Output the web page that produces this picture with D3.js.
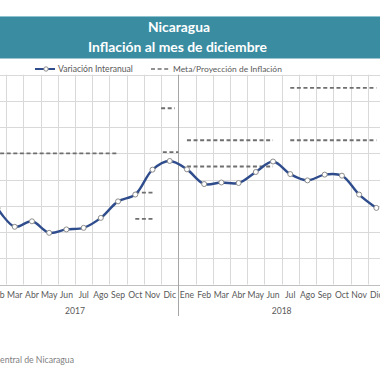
<!DOCTYPE html>
<html>
<head>
<meta charset="utf-8">
<script src="https://cdn.jsdelivr.net/npm/d3@7"></script>
<style>
  html, body { margin: 0; padding: 0; background: #ffffff; }
  svg { display: block; }
  text { font-family: Lato, "Open Sans", "Noto Sans", sans-serif; }
</style>
</head>
<body>
<svg id="chart" width="380" height="380"></svg>
<script>
// ---------- data ----------
const meses = ["Ene","Feb","Mar","Abr","May","Jun","Jul","Ago","Sep","Oct","Nov","Dic"];
const anios = ["2017","2018"];
// Variación interanual (%), Ene 2017 .. Dic 2018 (Ene 2017 not visible)
const variacion = [null, 3.91, 3.20, 3.41, 2.97, 3.10, 3.16, 3.54, 4.17, 4.43, 5.38, 5.71,
                   5.39, 4.83, 4.89, 4.87, 5.29, 5.69, 5.21, 4.97, 5.19, 5.15, 4.43, 3.92];
// Meta/Proyección de inflación: segments (month index from Ene 2017)
const metaInicio = [0,   9,   9,   10.5, 10.6, 12,  12,  18,  18];
const metaFin    = [8,   10,  10,  11.3, 11.5, 17,  17,  23,  23];
const metaValor  = [6.0, 4.5, 3.5, 7.72, 6.05, 6.5, 5.5, 8.5, 6.5];
const yTicks = [1,2,3,4,5,6,7,8,9];
const titulo1 = "Nicaragua";
const titulo2 = "Inflación al mes de diciembre";
const leyenda1 = "Variación Interanual";
const leyenda2 = "Meta/Proyección de Inflación";
const fuente = "Fuente: Banco Central de Nicaragua";

// ---------- layout ----------
const svg = d3.select("#chart");
const W = 380, H = 380;
const plotTop = 74.7, plotBottom = 284.5;
const step = 17.22, firstCenter = -19.7;

const categorias = [];
anios.forEach(a => meses.forEach(m => categorias.push(a + "-" + m)));

const x = d3.scaleBand()
  .domain(categorias)
  .range([firstCenter - step/2, firstCenter - step/2 + step*categorias.length])
  .paddingInner(0).paddingOuter(0);
const xc = i => x(categorias[i]) + x.bandwidth()/2;
const xi = d3.scaleLinear().domain([0, categorias.length-1]).range([xc(0), xc(categorias.length-1)]);

const y = d3.scaleLinear().domain([1, 9]).range([plotBottom, plotTop]);

// helper: fit text to width
function fit(sel, target) {
  const n = sel.node();
  const w = n.getComputedTextLength();
  const fs = parseFloat(sel.attr("font-size"));
  sel.attr("font-size", (fs * target / w).toFixed(2));
}

// ---------- title banner ----------
svg.append("rect").attr("x", 0).attr("y", 16).attr("width", W).attr("height", 42.5)
  .attr("fill", "#3a8ca1");
svg.append("line").attr("x1", 0).attr("x2", W).attr("y1", 16.5).attr("y2", 16.5)
  .attr("stroke", "#8fc3cf").attr("stroke-width", 1);
const t1 = svg.append("text").attr("x", 179).attr("y", 31.5).attr("text-anchor", "middle")
  .attr("fill", "#ffffff").attr("font-weight", "bold").attr("font-size", 13).text(titulo1);
fit(t1, 62);
const t2 = svg.append("text").attr("x", 177.5).attr("y", 52).attr("text-anchor", "middle")
  .attr("fill", "#ffffff").attr("font-weight", "bold").attr("font-size", 13).text(titulo2);
fit(t2, 179);

// ---------- gridlines ----------
const grid = svg.append("g");
grid.selectAll("line.h").data(yTicks.filter(v => v > 1)).join("line")
  .attr("x1", 0).attr("x2", W)
  .attr("y1", d => Math.round(y(d)) + 0.5).attr("y2", d => Math.round(y(d)) + 0.5)
  .attr("stroke", "#d9d9d9").attr("stroke-width", 1);
const bounds = d3.range(0, categorias.length + 1).map(k => x.range()[0] + k * step);
grid.selectAll("line.v").data(bounds.filter(b => b > 0 && b < W && Math.abs(b - xc(11) - step/2) > 1)).join("line")
  .attr("x1", d => Math.round(d) + 0.5).attr("x2", d => Math.round(d) + 0.5)
  .attr("y1", plotTop).attr("y2", plotBottom)
  .attr("stroke", "#d9d9d9").attr("stroke-width", 1);

// axis line
svg.append("line").attr("x1", 0).attr("x2", W)
  .attr("y1", Math.round(plotBottom) + 0.5).attr("y2", Math.round(plotBottom) + 0.5)
  .attr("stroke", "#bfbfbf").attr("stroke-width", 1);
// year separator
const sepX = Math.round(xc(11) + step/2) + 0.5;
svg.append("line").attr("x1", sepX).attr("x2", sepX).attr("y1", plotTop).attr("y2", 316)
  .attr("stroke", "#a6a6a6").attr("stroke-width", 1);

// ---------- x axis labels ----------
svg.append("g").selectAll("text").data(categorias).join("text")
  .attr("x", d => x(d) + x.bandwidth()/2).attr("y", 298)
  .attr("text-anchor", "middle").attr("font-size", 8.6).attr("fill", "#595959")
  .text(d => d.split("-")[1]);
svg.append("g").selectAll("text").data(anios).join("text")
  .attr("x", (d, i) => xi(i*12 + 5.5)).attr("y", 314)
  .attr("text-anchor", "middle").attr("font-size", 8.6).attr("fill", "#595959")
  .text(d => d);

// ---------- meta dashed segments ----------
const metaSeg = metaValor.map((v, i) => ({ a: metaInicio[i], b: metaFin[i], v }));
svg.append("g").selectAll("line").data(metaSeg).join("line")
  .attr("x1", d => xi(d.a)).attr("x2", d => xi(d.b))
  .attr("y1", d => y(d.v)).attr("y2", d => y(d.v))
  .attr("stroke", "#6f6f6f").attr("stroke-width", 1.8)
  .attr("stroke-dasharray", "4,2.6");

// ---------- variación line ----------
const pts = variacion.map((v, i) => ({ i, v })).filter(d => d.v !== null);
const line = d3.line().x(d => xc(d.i)).y(d => y(d.v)).curve(d3.curveCatmullRom.alpha(0.5));
svg.append("path").datum(pts).attr("d", line)
  .attr("fill", "none").attr("stroke", "#2f4d8c").attr("stroke-width", 2.4);
svg.append("g").selectAll("circle").data(pts).join("circle")
  .attr("cx", d => xc(d.i)).attr("cy", d => y(d.v)).attr("r", 2.5)
  .attr("fill", "#ffffff").attr("stroke", "#8c8c8c").attr("stroke-width", 1);

// ---------- legend ----------
const lg = svg.append("g");
lg.append("line").attr("x1", 35).attr("x2", 55).attr("y1", 69).attr("y2", 69)
  .attr("stroke", "#2f4d8c").attr("stroke-width", 2);
lg.append("circle").attr("cx", 46).attr("cy", 69).attr("r", 2.2)
  .attr("fill", "#ffffff").attr("stroke", "#8c8c8c").attr("stroke-width", 1);
const l1 = lg.append("text").attr("x", 58).attr("y", 72).attr("font-size", 8)
  .attr("fill", "#595959").text(leyenda1);
fit(l1, 75);
lg.append("line").attr("x1", 151).attr("x2", 170).attr("y1", 69).attr("y2", 69)
  .attr("stroke", "#6f6f6f").attr("stroke-width", 1.6).attr("stroke-dasharray", "4,2.6");
const l2 = lg.append("text").attr("x", 173).attr("y", 72).attr("font-size", 8)
  .attr("fill", "#595959").text(leyenda2);
fit(l2, 109);

// ---------- source (left part cropped as in the reference) ----------
const probe = svg.append("text").attr("font-size", 10).text("entral de Nicaragua");
const probeW = probe.node().getComputedTextLength();
probe.remove();
svg.append("text").attr("x", 74).attr("y", 363).attr("text-anchor", "end")
  .attr("font-size", (10 * 74 / probeW).toFixed(2)).attr("fill", "#7f7f7f").text(fuente);
</script>
</body>
</html>
